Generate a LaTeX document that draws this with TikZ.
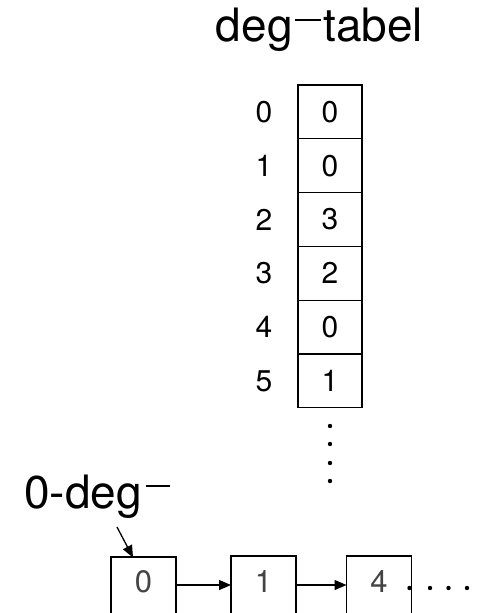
\documentclass[tikz,border=0pt]{standalone}
\usepackage{fontspec}
\setmainfont{TeX Gyre Heros}
\usetikzlibrary{arrows.meta}
\definecolor{boxtext}{HTML}{444444}
\begin{document}
\begin{tikzpicture}[x=1pt,y=-1pt,
  cell/.style={draw,line width=1.3pt,minimum width=64pt,minimum height=53.8pt,inner sep=0pt,outer sep=0pt,font=\fontsize{30}{32}\selectfont},
  idx/.style={inner sep=0pt,font=\fontsize{30}{32}\selectfont},
  listbox/.style={draw,line width=1.3pt,minimum width=65pt,minimum height=64pt,inner sep=0pt,outer sep=0pt},
  listtxt/.style={inner sep=0pt,text=boxtext,font=\fontsize{31}{33}\selectfont},
  link/.style={line width=1.3pt,-{Triangle[length=12pt,width=10pt]}},
  dot/.style={circle,fill=black,inner sep=0pt,minimum size=4.4pt}]
\useasboundingbox (0,0) rectangle (477,613);
% title
\node[anchor=base,inner sep=0pt,font=\fontsize{46}{50}\selectfont] (title) at (319.5,41)
  {deg\hspace{0.05em}\rule[0.43em]{0.56em}{0.05em}\hspace{0.06em}tabel};
% table
\foreach \i/\v in {0/0,1/0,2/3,3/2,4/0,5/1}{
  \node[cell] (c\i) at (330,{85+53.8*(\i+0.5)}) {\v};
  \node[idx] (l\i) at (264,{85+53.8*(\i+0.5)}) {\i};
}
\foreach \k/\yy in {1/426,2/444,3/463,4/481}{
  \node[dot] (vd\k) at (330,\yy) {};
}
% 0-deg label
\node[anchor=base west,inner sep=0pt,font=\fontsize{46}{50}\selectfont] (lab) at (24,508)
  {0-deg\hspace{0.09em}\rule[0.45em]{0.52em}{0.045em}};
\coordinate (labarrow) at (117,527);
% list
\node[listbox] (b0) at (143.5,589) {};
\node[listbox] (b1) at (263.5,588) {};
\node[listbox] (b4) at (379,588) {};
\node[listtxt] (t0) at (143.5,582) {0};
\node[listtxt] (t1) at (263.5,582) {1};
\node[listtxt] (t4) at (379,582) {4};
\draw[link] (b0.east |- 0,585) -- (b1.west |- 0,585);
\draw[link] (b1.east |- 0,585) -- (b4.west |- 0,585);
\draw[link] (labarrow) -- (133,557.5);
\foreach \k/\xx in {1/409.5,2/430,3/448.5,4/467}{
  \node[dot] (hd\k) at (\xx,588) {};
}
\end{tikzpicture}
\end{document}
